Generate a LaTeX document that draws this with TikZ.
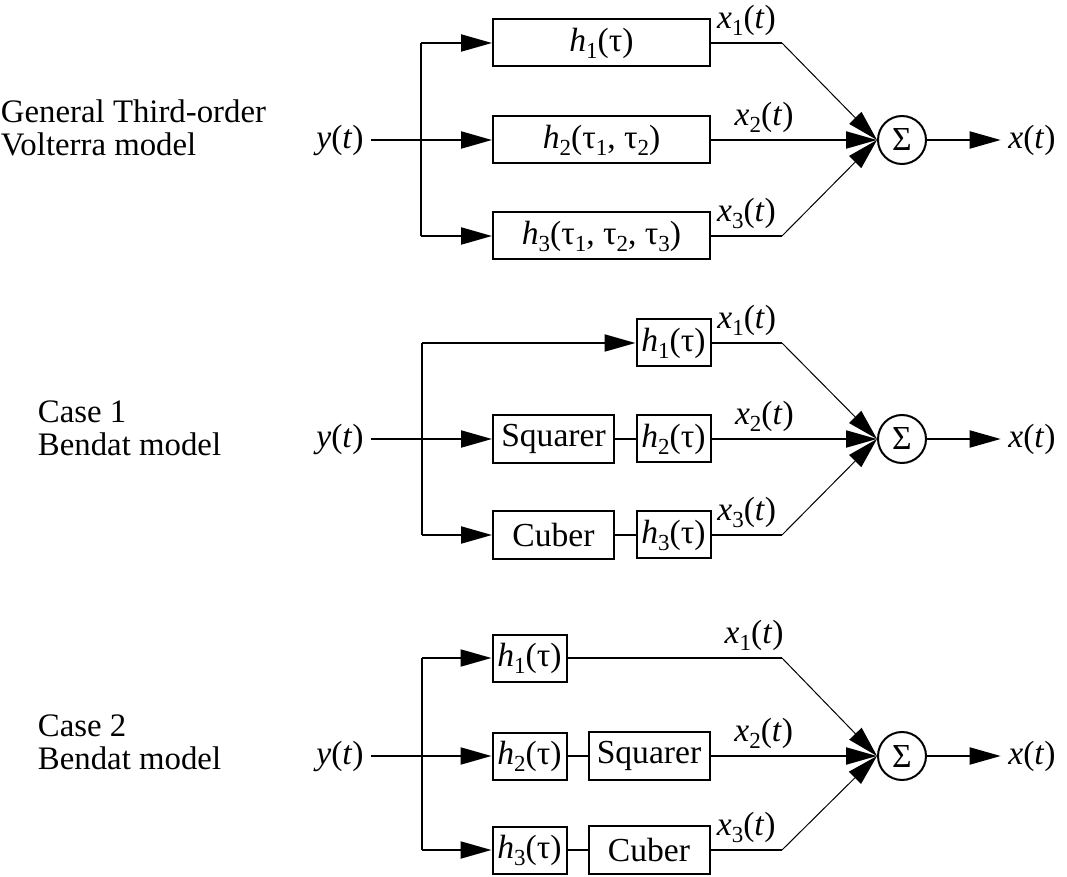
\documentclass[tikz,border=0pt]{standalone}
\usepackage{fontspec}
\setmainfont{Liberation Serif}
\usetikzlibrary{arrows.meta,positioning}

\newcommand{\sbs}[1]{\raisebox{-0.45ex}{\fontsize{11.5}{11.5}\selectfont #1}}
\newcommand{\vi}[1]{\textit{#1}}

\begin{document}
\begin{tikzpicture}[x=0.5pt,y=-0.5pt,line width=1pt,>={Triangle[length=15.5pt,width=8.5pt]},
    every node/.style={font=\fontsize{16.8}{15}\selectfont},
    caption/.style={align=left,anchor=west,inner sep=0pt,font=\fontsize{16.4}{16.6}\selectfont},
    wide/.style={draw,minimum width=108.5pt,minimum height=23.5pt,inner sep=0pt},
    tap/.style={draw,minimum width=37pt,minimum height=23.5pt,inner sep=0pt},
    power/.style={draw,minimum width=60.5pt,minimum height=24pt,inner sep=0pt},
    adder/.style={draw,circle,minimum size=24pt,inner sep=0pt},
    feed/.style={line width=0.5pt}]
    \useasboundingbox (0,0) rectangle (1067,877);

    % general third-order Volterra model
    \node[caption] (labA) at (0,128) {General Third-order\\Volterra model};
    \node (inA) at (340,140) {\vi{y}(\vi{t})};
    \coordinate (brA) at (421,140);
    \node[wide] (hA1) at (601.5,43) {\vi{h}\sbs{1}(τ)};
    \node[wide] (hA2) at (601.5,140) {\vi{h}\sbs{2}(τ\sbs{1}, τ\sbs{2})};
    \node[wide] (hA3) at (601.5,236) {\vi{h}\sbs{3}(τ\sbs{1}, τ\sbs{2}, τ\sbs{3})};
    \node[adder] (sA) at (902,140) {Σ};
    \node (outA) at (1032,140) {\vi{x}(\vi{t})};
    \coordinate (kA1) at (782,43);
    \coordinate (kA3) at (782,236);

    \draw (brA |- hA1) -- (brA |- hA3);
    \draw[->] (brA |- hA1) -- (hA1);
    \draw[->] (inA) -- (hA2);
    \draw[->] (brA |- hA3) -- (hA3);
    \draw (hA1) -- (kA1) node[midway,above] {\vi{x}\sbs{1}(\vi{t})};
    \draw[feed,->] (kA1) -- (sA.west);
    \draw[->] (hA2) -- (sA) node[pos=0.32,above] {\vi{x}\sbs{2}(\vi{t})};
    \draw (hA3) -- (kA3) node[midway,above] {\vi{x}\sbs{3}(\vi{t})};
    \draw[feed,->] (kA3) -- (sA.west);
    \draw[->] (sA) -- (outA);

    % case 1: Bendat model
    \node[caption] (labB) at (37,428) {Case 1\\Bendat model};
    \node (inB) at (340,439) {\vi{y}(\vi{t})};
    \coordinate (brB) at (422,439);
    \node[tap] (hB1) at (673.5,343) {\vi{h}\sbs{1}(τ)};
    \node[power] (sqB) at (553.5,439) {Squarer};
    \node[tap] (hB2) at (673.5,439) {\vi{h}\sbs{2}(τ)};
    \node[power] (cuB) at (553.5,535) {Cuber};
    \node[tap] (hB3) at (673.5,535) {\vi{h}\sbs{3}(τ)};
    \node[adder] (sB) at (902,439) {Σ};
    \node (outB) at (1032,439) {\vi{x}(\vi{t})};
    \coordinate (kB1) at (782,343);
    \coordinate (kB3) at (782,535);

    \draw (brB |- hB1) -- (brB |- cuB);
    \draw[->] (brB |- hB1) -- (hB1);
    \draw[->] (inB) -- (sqB);
    \draw[->] (brB |- cuB) -- (cuB);
    \draw (sqB) -- (hB2);
    \draw (cuB) -- (hB3);
    \draw (hB1) -- (kB1) node[midway,above] {\vi{x}\sbs{1}(\vi{t})};
    \draw[feed,->] (kB1) -- (sB.west);
    \draw[->] (hB2) -- (sB) node[pos=0.32,above] {\vi{x}\sbs{2}(\vi{t})};
    \draw (hB3) -- (kB3) node[midway,above] {\vi{x}\sbs{3}(\vi{t})};
    \draw[feed,->] (kB3) -- (sB.west);
    \draw[->] (sB) -- (outB);

    % case 2: Bendat model
    \node[caption] (labC) at (37,742) {Case 2\\Bendat model};
    \node (inC) at (340,756) {\vi{y}(\vi{t})};
    \coordinate (brC) at (422,756);
    \node[tap] (hC1) at (529.5,658) {\vi{h}\sbs{1}(τ)};
    \node[tap] (hC2) at (529.5,756) {\vi{h}\sbs{2}(τ)};
    \node[tap] (hC3) at (529.5,850) {\vi{h}\sbs{3}(τ)};
    \node[power] (sqC) at (649,756) {Squarer};
    \node[power] (cuC) at (649,850) {Cuber};
    \node[adder] (sC) at (902,756) {Σ};
    \node (outC) at (1032,756) {\vi{x}(\vi{t})};
    \coordinate (kC1) at (782,658);
    \coordinate (kC3) at (782,850);

    \draw (brC |- hC1) -- (brC |- hC3);
    \draw[->] (brC |- hC1) -- (hC1);
    \draw[->] (inC) -- (hC2);
    \draw[->] (brC |- hC3) -- (hC3);
    \draw (hC2) -- (sqC);
    \draw (hC3) -- (cuC);
    \draw (hC1) -- (kC1) node[pos=0.87,above] {\vi{x}\sbs{1}(\vi{t})};
    \draw[feed,->] (kC1) -- (sC.west);
    \draw[->] (sqC) -- (sC) node[pos=0.32,above] {\vi{x}\sbs{2}(\vi{t})};
    \draw (cuC) -- (kC3) node[midway,above] {\vi{x}\sbs{3}(\vi{t})};
    \draw[feed,->] (kC3) -- (sC.west);
    \draw[->] (sC) -- (outC);
\end{tikzpicture}
\end{document}
